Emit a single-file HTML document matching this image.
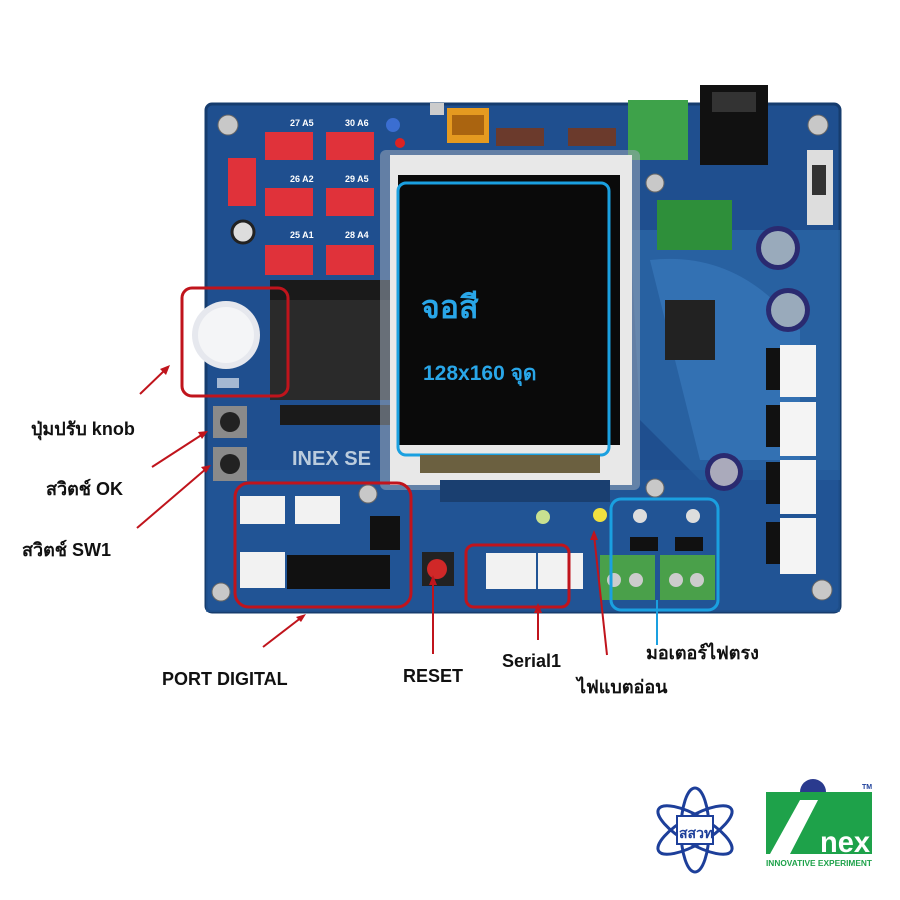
<!DOCTYPE html>
<html><head><meta charset="utf-8"><style>
html,body{margin:0;padding:0;background:#fff;width:900px;height:900px;overflow:hidden}
svg{display:block}
text{font-family:"Liberation Sans","Noto Sans CJK SC",sans-serif;font-weight:bold}
</style></head><body>
<svg width="900" height="900" viewBox="0 0 900 900" xmlns="http://www.w3.org/2000/svg">
<rect width="900" height="900" fill="#fff"/>
<!-- board -->
<rect x="206" y="104" width="634" height="508" rx="6" fill="#1f4f8f"/>
<rect x="206" y="104" width="634" height="508" rx="6" fill="none" stroke="#163c6e" stroke-width="3"/>
<path d="M630 230 L840 230 L840 480 L700 480 L640 420 Z" fill="#2c6aa8" opacity="0.7"/>
<path d="M650 260 Q740 250 800 330 L800 460 L700 460 Z" fill="#3a7cc0" opacity="0.6"/>
<rect x="206" y="470" width="634" height="142" fill="#23589a" opacity="0.6"/>
<!-- top connectors -->
<rect x="700" y="85" width="68" height="80" fill="#111"/>
<rect x="712" y="92" width="44" height="20" fill="#333"/>
<rect x="628" y="100" width="60" height="60" fill="#3ea24a"/>
<rect x="447" y="108" width="42" height="35" fill="#e59a20"/>
<rect x="452" y="115" width="32" height="20" fill="#aa6410"/>
<rect x="496" y="128" width="48" height="18" fill="#6b3a2c"/>
<rect x="568" y="128" width="48" height="18" fill="#6b3a2c"/>
<rect x="430" y="103" width="14" height="12" fill="#ccc"/>
<circle cx="393" cy="125" r="7" fill="#3b6ed1"/>
<circle cx="400" cy="143" r="5" fill="#d22"/>
<!-- red JST connectors -->
<g fill="#e0323a">
<rect x="265" y="132" width="48" height="28"/><rect x="326" y="132" width="48" height="28"/>
<rect x="265" y="188" width="48" height="28"/><rect x="326" y="188" width="48" height="28"/>
<rect x="265" y="245" width="48" height="30"/><rect x="326" y="245" width="48" height="30"/>
<rect x="228" y="158" width="28" height="48"/>
</g>
<g fill="#fff" font-size="9"><text x="290" y="126">27 A5</text><text x="345" y="126">30 A6</text><text x="290" y="182">26 A2</text><text x="345" y="182">29 A5</text><text x="290" y="238">25 A1</text><text x="345" y="238">28 A4</text></g>
<circle cx="243" cy="232" r="11" fill="#ddd" stroke="#222" stroke-width="3"/>
<!-- chip socket -->
<rect x="270" y="280" width="125" height="20" fill="#1a1a1a"/>
<rect x="270" y="300" width="125" height="100" fill="#2a2a2a"/>
<rect x="280" y="405" width="115" height="20" fill="#1a1a1a"/>
<!-- knob -->
<circle cx="226" cy="335" r="34" fill="#e6e8ee"/>
<circle cx="226" cy="335" r="28" fill="#f4f5f7"/>
<rect x="217" y="378" width="22" height="10" fill="#fff" opacity="0.6"/>
<!-- buttons -->
<rect x="213" y="406" width="34" height="32" fill="#8a8a8a"/><circle cx="230" cy="422" r="10" fill="#222"/>
<rect x="213" y="447" width="34" height="34" fill="#8a8a8a"/><circle cx="230" cy="464" r="10" fill="#222"/>
<text x="292" y="465" fill="#bcd" font-size="20">INEX SE</text>
<!-- LCD frame -->
<rect x="380" y="150" width="260" height="340" rx="6" fill="#9aa8b8" opacity="0.55"/>
<rect x="390" y="155" width="242" height="330" fill="#e8e8e8"/>
<rect x="398" y="175" width="222" height="270" fill="#0a0a0a"/>
<rect x="398" y="183" width="211" height="272" rx="8" fill="none" stroke="#1aa0e0" stroke-width="3"/>
<rect x="420" y="455" width="180" height="18" fill="#6b6040"/>
<text x="421" y="318" fill="#29a6e8" font-size="32" font-weight="normal">จอสี</text>
<text x="423" y="380" fill="#29a6e8" font-size="21">128x160 จุด</text>
<rect x="440" y="480" width="170" height="22" fill="#1a3f70"/>
<!-- right side -->
<rect x="657" y="200" width="75" height="50" fill="#2e8f3a"/>
<rect x="665" y="300" width="50" height="60" fill="#222"/>
<circle cx="778" cy="248" r="22" fill="#2a2a70"/><circle cx="778" cy="248" r="17" fill="#9ab"/>
<circle cx="788" cy="310" r="22" fill="#2a2a70"/><circle cx="788" cy="310" r="17" fill="#9ab"/>
<circle cx="724" cy="472" r="19" fill="#2a2a70"/><circle cx="724" cy="472" r="14" fill="#aab"/>
<rect x="807" y="150" width="26" height="75" fill="#ddd"/><rect x="812" y="165" width="14" height="30" fill="#333"/>
<g fill="#f4f4f4"><rect x="780" y="345" width="36" height="52"/><rect x="780" y="402" width="36" height="54"/><rect x="780" y="460" width="36" height="54"/><rect x="780" y="518" width="36" height="56"/></g>
<g fill="#111"><rect x="766" y="348" width="14" height="42"/><rect x="766" y="405" width="14" height="42"/><rect x="766" y="462" width="14" height="42"/><rect x="766" y="522" width="14" height="42"/></g>
<!-- motor block -->
<rect x="600" y="555" width="55" height="45" fill="#4aa04a"/><rect x="660" y="555" width="55" height="45" fill="#4aa04a"/>
<g fill="#ccc"><circle cx="614" cy="580" r="7"/><circle cx="636" cy="580" r="7"/><circle cx="676" cy="580" r="7"/><circle cx="697" cy="580" r="7"/></g>
<rect x="630" y="537" width="28" height="14" fill="#111"/><rect x="675" y="537" width="28" height="14" fill="#111"/>
<circle cx="640" cy="516" r="7" fill="#ddd"/><circle cx="693" cy="516" r="7" fill="#ddd"/>
<rect x="611" y="499" width="107" height="111" rx="10" fill="none" stroke="#1aa0e0" stroke-width="3"/>
<!-- bottom connectors -->
<g fill="#f2f2f2"><rect x="240" y="496" width="45" height="28"/><rect x="295" y="496" width="45" height="28"/><rect x="240" y="552" width="45" height="36"/><rect x="486" y="553" width="50" height="36"/><rect x="538" y="553" width="45" height="36"/></g>
<g fill="#111"><rect x="287" y="555" width="52" height="34"/><rect x="338" y="555" width="52" height="34"/><rect x="370" y="516" width="30" height="34"/></g>
<rect x="422" y="552" width="32" height="34" fill="#222"/><circle cx="437" cy="569" r="10" fill="#d02828"/>
<circle cx="543" cy="517" r="7" fill="#c8e090"/><circle cx="600" cy="515" r="7" fill="#f0e040"/>
<!-- screws -->
<g fill="#c8c8c8" stroke="#666"><circle cx="228" cy="125" r="10"/><circle cx="818" cy="125" r="10"/><circle cx="822" cy="590" r="10"/><circle cx="221" cy="592" r="9"/><circle cx="655" cy="183" r="9"/><circle cx="655" cy="488" r="9"/><circle cx="368" cy="494" r="9"/></g>
<!-- red outlines -->
<g fill="none" stroke="#c0141c" stroke-width="3">
<rect x="182" y="288" width="106" height="108" rx="10"/>
<rect x="235" y="483" width="176" height="124" rx="14"/>
<rect x="466" y="545" width="103" height="62" rx="8"/>
</g>
<!-- arrows -->
<g stroke="#c0141c" stroke-width="2" fill="none">
<line x1="140" y1="394" x2="166" y2="369"/>
<line x1="152" y1="467" x2="203" y2="434"/>
<line x1="137" y1="528" x2="207" y2="468"/>
<line x1="263" y1="647" x2="302" y2="617"/>
<line x1="433" y1="654" x2="433" y2="580"/>
<line x1="538" y1="640" x2="538" y2="608"/>
<line x1="607" y1="655" x2="594" y2="535"/>
</g>
<line x1="657" y1="645" x2="657" y2="600" stroke="#1aa0e0" stroke-width="2"/>
<g fill="#c0141c">
<polygon points="170,365 160,369 166,375"/><polygon points="208,431 198,432 202,439"/><polygon points="211,465 201,467 206,473"/>
<polygon points="306,614 296,617 301,622"/><polygon points="433,575 429,585 437,585"/><polygon points="538,603 534,613 542,613"/><polygon points="594,530 590,540 598,540"/>
</g>
<!-- labels -->
<g fill="#111" font-size="18">
<text x="31" y="435">ปุ่มปรับ knob</text>
<text x="46" y="495">สวิตช์ OK</text>
<text x="22" y="556">สวิตช์ SW1</text>
<text x="162" y="685">PORT DIGITAL</text>
<text x="403" y="682">RESET</text>
<text x="502" y="667">Serial1</text>
<text x="577" y="693">ไฟแบตอ่อน</text>
<text x="646" y="659">มอเตอร์ไฟตรง</text>
</g>
<!-- logos -->
<g fill="none" stroke="#1d3f9a" stroke-width="3">
<ellipse cx="695" cy="830" rx="14" ry="42"/>
<ellipse cx="695" cy="830" rx="14" ry="42" transform="rotate(60 695 830)"/>
<ellipse cx="695" cy="830" rx="14" ry="42" transform="rotate(-60 695 830)"/>
</g>
<rect x="677" y="816" width="36" height="28" fill="#fff" stroke="#1d3f9a" stroke-width="2"/>
<text x="679" y="838" fill="#1d3f9a" font-size="14">สสวท</text>
<rect x="766" y="792" width="106" height="62" fill="#1ea24a"/>
<path d="M800 792 A13 13 0 0 1 826 792 Z" fill="#2a3a8e"/>
<polygon points="770,854 800,800 818,800 790,854" fill="#fff"/>
<text x="820" y="852" fill="#fff" font-size="30" textLength="50" lengthAdjust="spacingAndGlyphs">nex</text>
<text x="766" y="866" fill="#1ea24a" font-size="8" font-weight="normal" textLength="106" lengthAdjust="spacingAndGlyphs">INNOVATIVE EXPERIMENT</text>
<text x="862" y="789" fill="#1d3f9a" font-size="7" font-weight="normal">TM</text>
</svg>
</body></html>
